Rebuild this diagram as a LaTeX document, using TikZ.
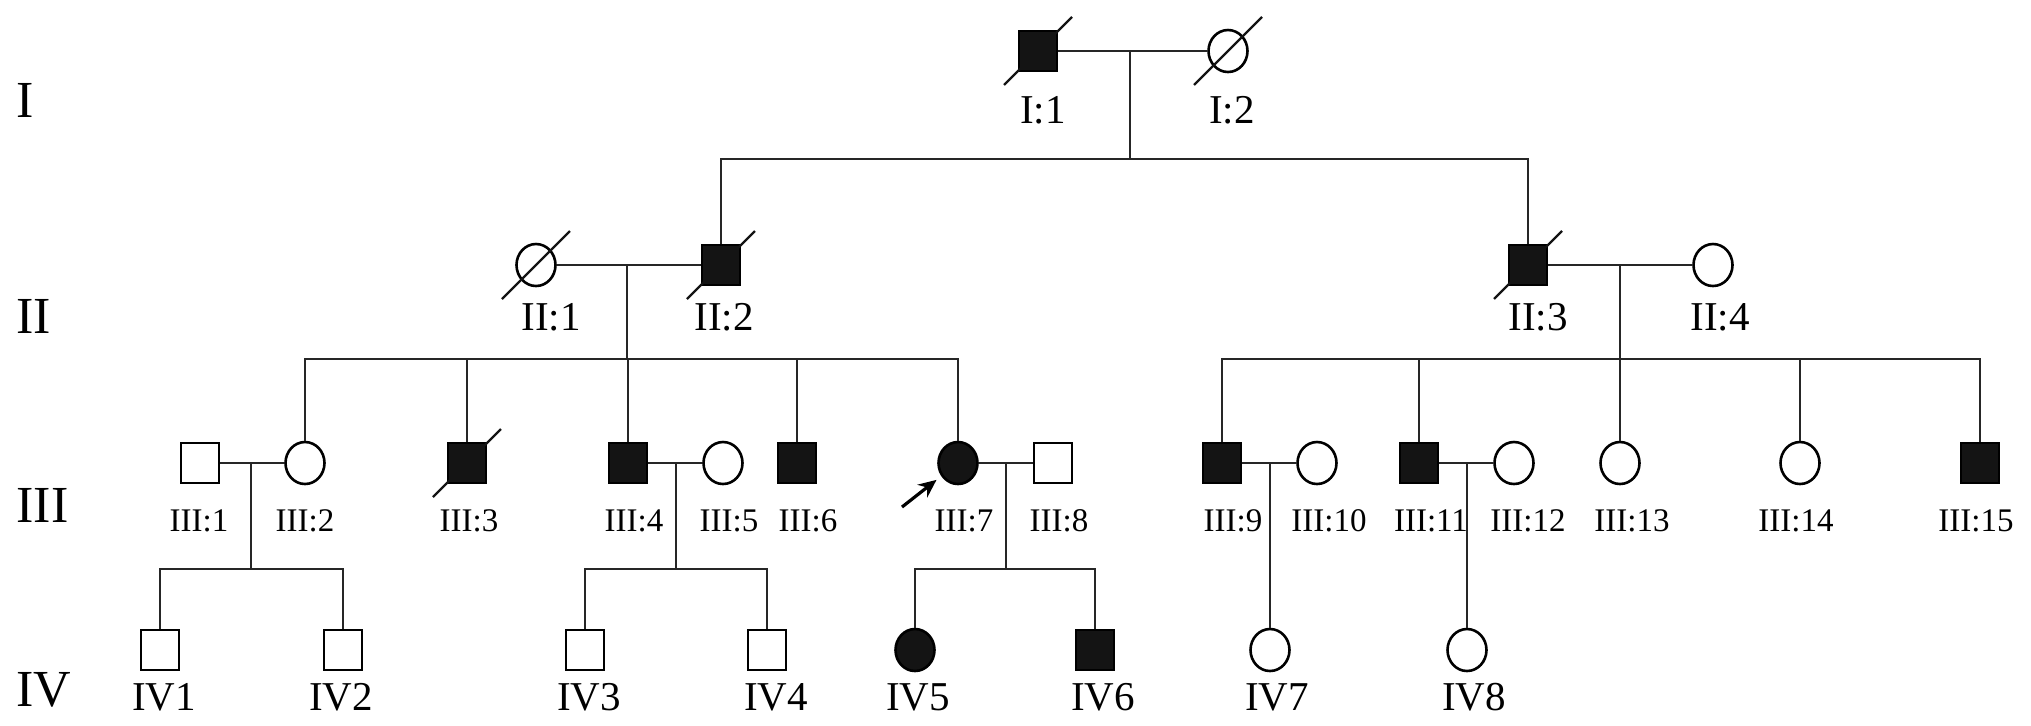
\documentclass[tikz,border=0pt]{standalone}
\usepackage{fontspec}
\setmainfont{Liberation Serif}
\usepackage{tikz}
\usetikzlibrary{arrows.meta, shapes.geometric, calc}
\colorlet{affected}{black!92}
\colorlet{linecol}{black!85}

\tikzset{
  male/.style={draw=black, line width=1.3pt, rectangle, minimum width=19pt, minimum height=20pt, inner sep=0pt},
  female/.style={draw=black, line width=1.3pt, ellipse, minimum width=19.5pt, minimum height=21pt, inner sep=0pt},
  aff/.style={fill=affected},
  link/.style={line width=1.1pt, draw=linecol},
  dead/.style={line width=1.2pt, draw=affected},
  proband/.style={-{Stealth[length=9pt, width=8pt]}, line width=1.6pt, shorten >=3pt},
  gen/.style={font=\fontsize{26}{30}\selectfont, anchor=west, inner sep=0pt},
  idbig/.style={font=\fontsize{20.5}{24}\selectfont, inner sep=0pt},
  idsmall/.style={font=\fontsize{16.5}{19}\selectfont, inner sep=0pt},
}

\begin{document}
\begin{tikzpicture}[x=0.5pt, y=-0.5pt]
    \useasboundingbox (0,0) rectangle (2031,725);

    % generations
    \node[gen] (gI) at (16,100) {I};
    \node[gen] (gII) at (16,316) {II};
    \node[gen] (gIII) at (16,505) {III};
    \node[gen] (gIV) at (16,690) {IV};

    % generation I
    \node[male, aff] (i1) at (1038,51) {};
    \node[female] (i2) at (1228,51) {};

    % generation II
    \node[female] (ii1) at (536,265) {};
    \node[male, aff] (ii2) at (721,265) {};
    \node[male, aff] (ii3) at (1528,265) {};
    \node[female] (ii4) at (1713,265) {};

    % generation III
    \node[male] (iii1) at (200,463) {};
    \node[female] (iii2) at (305,463) {};
    \node[male, aff] (iii3) at (467,463) {};
    \node[male, aff] (iii4) at (628,463) {};
    \node[female] (iii5) at (723,463) {};
    \node[male, aff] (iii6) at (797,463) {};
    \node[female, aff] (iii7) at (958,463) {};
    \node[male] (iii8) at (1053,463) {};
    \node[male, aff] (iii9) at (1222,463) {};
    \node[female] (iii10) at (1317,463) {};
    \node[male, aff] (iii11) at (1419,463) {};
    \node[female] (iii12) at (1514,463) {};
    \node[female] (iii13) at (1620,463) {};
    \node[female] (iii14) at (1800,463) {};
    \node[male, aff] (iii15) at (1980,463) {};

    % generation IV
    \node[male] (iv1) at (160,650) {};
    \node[male] (iv2) at (343,650) {};
    \node[male] (iv3) at (585,650) {};
    \node[male] (iv4) at (767,650) {};
    \node[female, aff] (iv5) at (915,650) {};
    \node[male, aff] (iv6) at (1095,650) {};
    \node[female] (iv7) at (1270,650) {};
    \node[female] (iv8) at (1467,650) {};

    % labels
    \foreach \n/\x/\t in {i1/1043/I:1, i2/1232/I:2}
        \node[idbig] (l\n) at (\x,110) {\t};
    \foreach \n/\x/\t in {ii1/551/II:1, ii2/724/II:2, ii3/1538/II:3, ii4/1720/II:4}
        \node[idbig] (l\n) at (\x,317) {\t};
    \foreach \n/\x/\t in {iii1/199/III:1, iii2/305/III:2, iii3/469/III:3, iii4/634/III:4,
                          iii5/729/III:5, iii6/808/III:6, iii7/964/III:7, iii8/1059/III:8,
                          iii9/1233/III:9, iii10/1329/III:10, iii11/1431/III:11, iii12/1528/III:12,
                          iii13/1632/III:13, iii14/1796/III:14, iii15/1976/III:15}
        \node[idsmall] (l\n) at (\x,521) {\t};
    \foreach \n/\x/\t in {iv1/164/IV1, iv2/341/IV2, iv3/589/IV3, iv4/776/IV4,
                          iv5/918/IV5, iv6/1103/IV6, iv7/1277/IV7, iv8/1474/IV8}
        \node[idbig] (l\n) at (\x,697) {\t};

    % couples
    \draw[link] (i1) -- (i2);
    \draw[link] (ii1) -- (ii2);
    \draw[link] (ii3) -- (ii4);
    \draw[link] (iii1) -- (iii2);
    \draw[link] (iii4) -- (iii5);
    \draw[link] (iii7) -- (iii8);
    \draw[link] (iii9) -- (iii10);
    \draw[link] (iii11) -- (iii12);

    % descent
    \coordinate (m0) at (1130,51);
    \coordinate (s0) at (1130,159);
    \draw[link] (m0) -- (s0);
    \draw[link] (ii2) |- (s0) -| (ii3);

    \coordinate (m1) at (627,265);
    \coordinate (s1) at (627,359);
    \draw[link] (m1) -- (s1);
    \draw[link] (iii2) |- (s1) -| (iii7);
    \foreach \c in {iii3,iii4,iii6}
        \draw[link] (\c) -- (\c |- s1);

    \coordinate (m2) at (1620,265);
    \coordinate (s2) at (1620,359);
    \draw[link] (m2) -- (s2);
    \draw[link] (iii9) |- (s2) -| (iii15);
    \foreach \c in {iii11,iii13,iii14}
        \draw[link] (\c) -- (\c |- s2);

    \coordinate (m3) at (251,463);
    \coordinate (s3) at (251,569);
    \draw[link] (m3) -- (s3);
    \draw[link] (iv1) |- (s3) -| (iv2);

    \coordinate (m4) at (676,463);
    \coordinate (s4) at (676,569);
    \draw[link] (m4) -- (s4);
    \draw[link] (iv3) |- (s4) -| (iv4);

    \coordinate (m5) at (1006,463);
    \coordinate (s5) at (1006,569);
    \draw[link] (m5) -- (s5);
    \draw[link] (iv5) |- (s5) -| (iv6);

    \coordinate (m6) at (1270,463);
    \draw[link] (m6) -- (iv7);
    \coordinate (m7) at (1467,463);
    \draw[link] (m7) -- (iv8);

    % deceased
    \foreach \p in {i1,i2,ii1,ii2,ii3,iii3}
        \draw[dead] ($(\p)+(-34,34)$) -- ($(\p)+(34,-34)$);

    % proband
    \coordinate (pb) at ($(iii7)+(-56,44)$);
    \draw[proband] (pb) -- (iii7);
\end{tikzpicture}
\end{document}
